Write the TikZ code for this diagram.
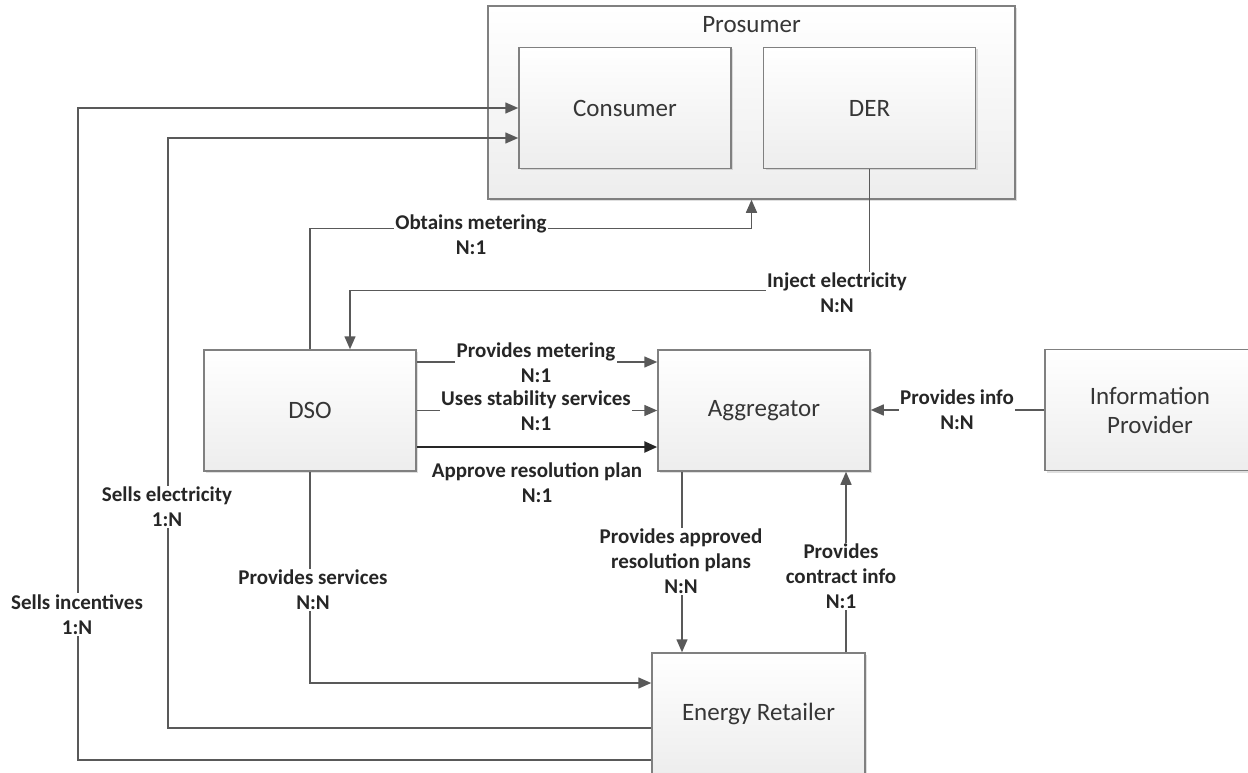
\documentclass[tikz,border=0pt]{standalone}
\usepackage{fontspec}
\setmainfont{Carlito}
\usetikzlibrary{positioning, arrows.meta, shadows}

\definecolor{linegray}{HTML}{595959}
\definecolor{boxgray}{HTML}{808080}
\definecolor{textgray}{HTML}{363636}

\tikzset{
  entity/.style={draw=boxgray, line width=1.5pt, top color=white, bottom color=black!7,
    minimum width=212pt, minimum height=121pt, align=center,
    font=\fontsize{25}{29}\selectfont, text=textgray,
    drop shadow={shadow xshift=2pt, shadow yshift=-2pt, opacity=0.25}},
  rel/.style={draw=linegray, line width=1.5pt, -{Triangle[length=13pt,width=11pt]}},
  plain/.style={draw=linegray, line width=1.5pt},
  rellabel/.style={fill=white, inner sep=1.5pt, align=center,
    font=\bfseries\fontsize{21}{25}\selectfont, text=black!85}
}

\begin{document}
\begin{tikzpicture}[x=1pt,y=-1pt]
\useasboundingbox (0,0) rectangle (1248,773);
\clip (0,0) rectangle (1248,773);
\fill[white] (0,0) rectangle (1248,773);

% prosumer group
\node[entity, minimum width=527pt, minimum height=193pt] (prosumer) at (751.5,102.5) {};
\node[font=\fontsize{25}{29}\selectfont, text=textgray] (prosumertitle) at (751.5,25) {Prosumer};
\node[entity] (consumer) at (625,108) {Consumer};
\node[entity] (der) at (869.5,108) {DER};

% actors
\node[entity] (dso) at (310,410.5) {DSO};
\node[entity] (aggregator) at (764,410.5) {Aggregator};
\node[entity, minimum width=210pt] (infoprov) at (1150,410) {Information\\Provider};
\node[entity, minimum width=213pt] (retailer) at (758.5,713.5) {Energy Retailer};

% helper corners
\coordinate (eleccorner) at (168,138);
\coordinate (incentcorner) at (78,108);

% relations
\draw[rel] (dso.north) -- ++(0,-121) -| (prosumer.south);
\draw[rel] (der.south) -- ++(0,121) -| ([xshift=40pt]dso.north);
\draw[rel] ([yshift=48.5pt]dso.east) -- ([yshift=48.5pt]aggregator.west);
\draw[rel] (dso.east) -- (aggregator.west);
\draw[rel, line width=2.5pt, draw=black!85] ([yshift=-36.5pt]dso.east) -- ([yshift=-36.5pt]aggregator.west);
\draw[rel] (infoprov.west) -- (infoprov.west -| aggregator.east);
\draw[rel] ([xshift=-82pt]aggregator.south) -- ([xshift=-82pt]aggregator.south |- retailer.north);
\draw[rel] ([xshift=82pt]aggregator.south |- retailer.north) -- ([xshift=82pt]aggregator.south);
\draw[rel] (dso.south) |- ([yshift=30.5pt]retailer.west);
\draw[rel] ([yshift=-14.5pt]retailer.west) -| (eleccorner) -- (eleccorner -| consumer.west);
\draw[rel] ([yshift=-46.5pt]retailer.west) -| (incentcorner) -- (consumer.west);

% relation labels
\node[rellabel] (obtainslbl) at (471,235) {Obtains metering\\N:1};
\node[rellabel] (injectlbl) at (837,293) {Inject electricity\\N:N};
\node[rellabel] (meteringlbl) at (536,362.5) {Provides metering\\N:1};
\node[rellabel] (stabilitylbl) at (536,410.5) {Uses stability services\\N:1};
\node[rellabel] (approvelbl) at (537,482.5) {Approve resolution plan\\N:1};
\node[rellabel] (infolbl) at (957,410) {Provides info\\N:N};
\node[rellabel] (eleclbl) at (167,507) {Sells electricity\\1:N};
\node[rellabel] (incentlbl) at (77,614.5) {Sells incentives\\1:N};
\node[rellabel] (serviceslbl) at (313,590) {Provides services\\N:N};
\node[rellabel] (planslbl) at (681,561.5) {Provides approved\\resolution plans\\N:N};
\node[rellabel] (contractlbl) at (841,576.5) {Provides\\contract info\\N:1};
\end{tikzpicture}
\end{document}
